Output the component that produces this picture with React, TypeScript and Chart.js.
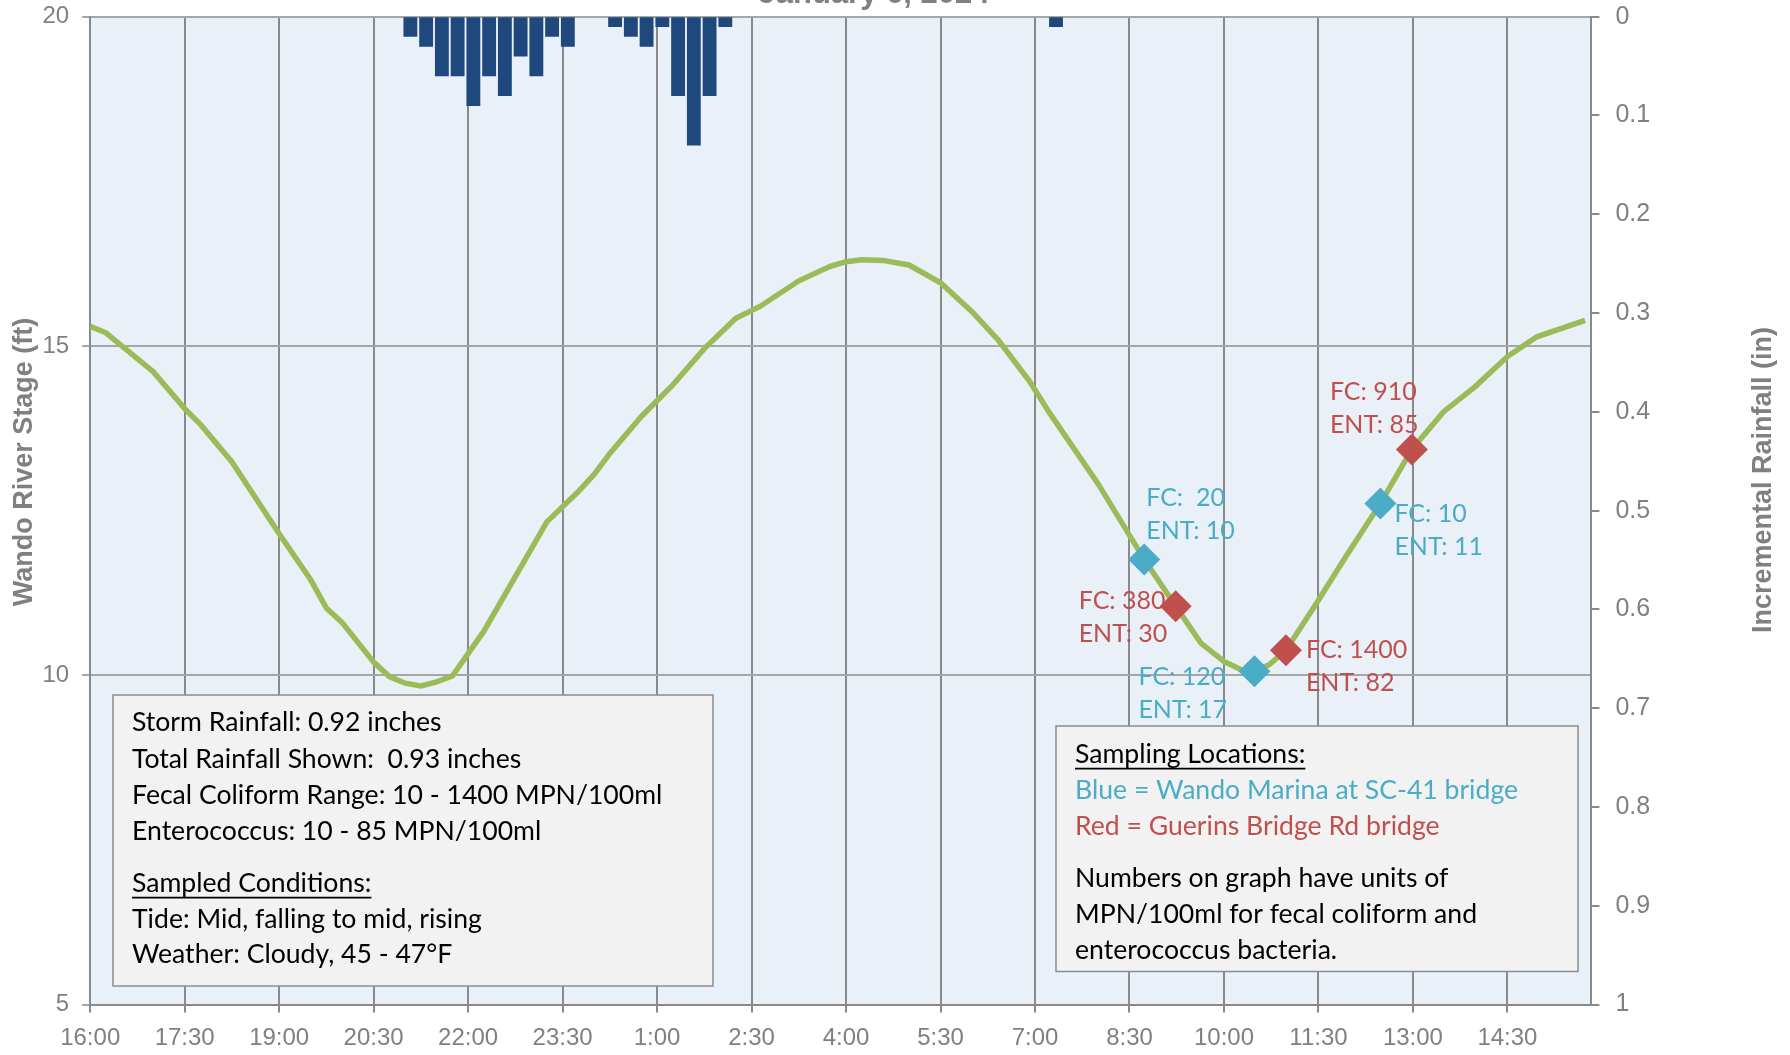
import React, { useEffect, useRef } from 'react';
import { Chart, registerables } from 'chart.js';

Chart.register(...registerables);

// ---------- data ----------
const TITLE = 'January 6, 2024';
const LEFT_AXIS_TITLE = 'Wando River Stage (ft)';
const RIGHT_AXIS_TITLE = 'Incremental Rainfall (in)';

// minutes after 16:00
const X_TICK_MINUTES = [0, 90, 180, 270, 360, 450, 540, 630, 720, 810, 900, 990, 1080, 1170, 1260, 1350];
const X_TICK_LABELS = ['16:00', '17:30', '19:00', '20:30', '22:00', '23:30', '1:00', '2:30', '4:00', '5:30', '7:00', '8:30', '10:00', '11:30', '13:00', '14:30'];

const STAGE_TIMES = [0, 15, 60, 90, 105, 135, 180, 210, 225, 240, 270, 285, 300, 315, 330, 345, 375, 435, 465, 480, 495, 525, 555, 585, 615, 638, 675, 705, 720, 735, 755, 780, 810, 840, 865, 895, 914, 960, 1004, 1034, 1058, 1080, 1097, 1109, 1123, 1139, 1168, 1196, 1229, 1259, 1289, 1319, 1350, 1378, 1424];
const STAGE_VALUES = [15.30, 15.20, 14.61, 14.05, 13.81, 13.24, 12.15, 11.45, 11.02, 10.80, 10.20, 9.98, 9.88, 9.84, 9.90, 9.99, 10.67, 12.33, 12.79, 13.05, 13.37, 13.93, 14.41, 14.96, 15.42, 15.60, 15.99, 16.21, 16.28, 16.31, 16.30, 16.23, 15.96, 15.52, 15.09, 14.46, 13.98, 12.91, 11.76, 11.05, 10.49, 10.21, 10.08, 10.06, 10.16, 10.38, 11.09, 11.80, 12.61, 13.43, 14.00, 14.38, 14.84, 15.14, 15.39];

const RAIN_TIMES = [305, 320, 335, 350, 365, 380, 395, 410, 425, 440, 455, 500, 515, 530, 545, 560, 575, 590, 605, 920];
const RAIN_VALUES = [0.02, 0.03, 0.06, 0.06, 0.09, 0.06, 0.08, 0.04, 0.06, 0.02, 0.03, 0.01, 0.02, 0.03, 0.01, 0.08, 0.13, 0.08, 0.01, 0.01];

const BLUE_TIMES = [1004, 1109, 1229];
const BLUE_STAGE = [11.76, 10.06, 12.61];
const BLUE_LABELS = [['FC:  20', 'ENT: 10'], ['FC: 120', 'ENT: 17'], ['FC: 10', 'ENT: 11']];

const RED_TIMES = [1034, 1139, 1259];
const RED_STAGE = [11.05, 10.38, 13.43];
const RED_LABELS = [['FC: 380', 'ENT: 30'], ['FC: 1400', 'ENT: 82'], ['FC: 910', 'ENT: 85']];

const LEFT_BOX_LINES = [
  'Storm Rainfall: 0.92 inches',
  'Total Rainfall Shown:  0.93 inches',
  'Fecal Coliform Range: 10 - 1400 MPN/100ml',
  'Enterococcus: 10 - 85 MPN/100ml',
  'Sampled Conditions:',
  'Tide: Mid, falling to mid, rising',
  'Weather: Cloudy, 45 - 47°F',
];
const RIGHT_BOX_LINES = [
  'Sampling Locations:',
  'Blue = Wando Marina at SC-41 bridge',
  'Red = Guerins Bridge Rd bridge',
  'Numbers on graph have units of',
  'MPN/100ml for fecal coliform and',
  'enterococcus bacteria.',
];

// ---------- styling / layout ----------
const AX_FONT = '"Liberation Sans", Arial, sans-serif';
const TXT_FONT = 'Lato, "Open Sans", sans-serif';
const GRAY_TEXT = '#808080';
const BLUE = '#4BACC6';
const RED = '#C0504D';
const BOX_TXT_SIZE = 26.6;
const LABEL_TXT_SIZE = 25;

const BLUE_LABEL_POS = [{ dx: 2, dy: -61 }, { dx: -116, dy: 6 }, { dx: 14, dy: 11 }];
const RED_LABEL_POS = [{ dx: -97, dy: -5 }, { dx: 20, dy: 0 }, { dx: -82, dy: -57 }];
const LABEL_LINE_GAP = 32.5;

const LEFT_BOX = { x: 113, y: 695, w: 600, h: 291, tx: 132, ys: [722.6, 759, 795.7, 831, 883.6, 919, 954], underline: [4], colors: ['#000', '#000', '#000', '#000', '#000', '#000', '#000'] };
const RIGHT_BOX = { x: 1056, y: 726, w: 522, h: 245.5, tx: 1075, ys: [754.6, 790, 826.5, 878, 914.4, 950], underline: [0], colors: ['#000', BLUE, RED, '#000', '#000', '#000'] };

const bgPlugin = {
  id: 'bgPlugin',
  beforeDraw(chart: any) {
    const { ctx, chartArea: a } = chart;
    ctx.save();
    ctx.fillStyle = '#FFFFFF';
    ctx.fillRect(0, 0, chart.width, chart.height);
    ctx.fillStyle = '#EAF0F8';
    ctx.fillRect(a.left, a.top, a.right - a.left, a.bottom - a.top);
    ctx.restore();
  },
};

const labelsPlugin = {
  id: 'labelsPlugin',
  afterDatasetsDraw(chart: any) {
    const ctx = chart.ctx;
    const sets = [
      { idx: 1, labels: BLUE_LABELS, pos: BLUE_LABEL_POS, color: BLUE },
      { idx: 2, labels: RED_LABELS, pos: RED_LABEL_POS, color: RED },
    ];
    ctx.save();
    ctx.font = `${LABEL_TXT_SIZE}px ${TXT_FONT}`;
    ctx.textAlign = 'left';
    ctx.textBaseline = 'middle';
    sets.forEach((s) => {
      const meta = chart.getDatasetMeta(s.idx);
      meta.data.forEach((pt: any, i: number) => {
        const p = s.pos[i];
        ctx.fillStyle = s.color;
        s.labels[i].forEach((line: string, k: number) => {
          ctx.fillText(line, pt.x + p.dx, pt.y + p.dy + k * LABEL_LINE_GAP);
        });
      });
    });
    ctx.restore();
  },
};

function drawBox(ctx: CanvasRenderingContext2D, box: any, lines: string[]) {
  ctx.save();
  ctx.fillStyle = '#F2F2F2';
  ctx.fillRect(box.x, box.y, box.w, box.h);
  ctx.strokeStyle = '#8C8C8C';
  ctx.lineWidth = 1.5;
  ctx.strokeRect(box.x, box.y, box.w, box.h);
  ctx.font = `${BOX_TXT_SIZE}px ${TXT_FONT}`;
  ctx.textAlign = 'left';
  ctx.textBaseline = 'middle';
  lines.forEach((line, i) => {
    ctx.fillStyle = box.colors[i];
    ctx.fillText(line, box.tx, box.ys[i]);
    if (box.underline.includes(i)) {
      const w = ctx.measureText(line).width;
      ctx.strokeStyle = box.colors[i];
      ctx.lineWidth = 1.6;
      ctx.beginPath();
      ctx.moveTo(box.tx, box.ys[i] + 14);
      ctx.lineTo(box.tx + w, box.ys[i] + 14);
      ctx.stroke();
    }
  });
  ctx.restore();
}

const overlayPlugin = {
  id: 'overlayPlugin',
  afterDraw(chart: any) {
    const ctx = chart.ctx;
    drawBox(ctx, LEFT_BOX, LEFT_BOX_LINES);
    drawBox(ctx, RIGHT_BOX, RIGHT_BOX_LINES);
    ctx.save();
    // title (mostly cut off at the top)
    ctx.fillStyle = GRAY_TEXT;
    ctx.font = `bold 31px ${AX_FONT}`;
    ctx.textAlign = 'center';
    ctx.textBaseline = 'alphabetic';
    ctx.fillText(TITLE, 874, 3);
    // axis titles
    ctx.font = `bold 27px ${AX_FONT}`;
    ctx.textBaseline = 'middle';
    ctx.save();
    ctx.translate(25, 462);
    ctx.rotate(-Math.PI / 2);
    ctx.fillText(LEFT_AXIS_TITLE, 0, 0);
    ctx.restore();
    ctx.save();
    ctx.translate(1764, 480);
    ctx.rotate(-Math.PI / 2);
    ctx.fillText(RIGHT_AXIS_TITLE, 0, 0);
    ctx.restore();
    ctx.restore();
  },
};

export default function App() {
  const ref = useRef<HTMLCanvasElement>(null);
  useEffect(() => {
    const canvas = ref.current;
    if (!canvas) return;
    const chart = new Chart(canvas, {
      type: 'line',
      data: {
        datasets: [
          {
            type: 'line',
            label: 'Stage',
            data: STAGE_TIMES.map((t, i) => ({ x: t, y: STAGE_VALUES[i] })),
            borderColor: '#9BBB59',
            borderWidth: 5.5,
            pointRadius: 0,
            tension: 0,
            xAxisID: 'x',
            yAxisID: 'y',
            order: 1,
          },
          {
            type: 'line',
            label: 'Blue',
            data: BLUE_TIMES.map((t, i) => ({ x: t, y: BLUE_STAGE[i] })),
            showLine: false,
            pointStyle: 'rectRot',
            pointRadius: 16,
            pointBackgroundColor: BLUE,
            pointBorderWidth: 0,
            xAxisID: 'x',
            yAxisID: 'y',
            order: 0,
          },
          {
            type: 'line',
            label: 'Red',
            data: RED_TIMES.map((t, i) => ({ x: t, y: RED_STAGE[i] })),
            showLine: false,
            pointStyle: 'rectRot',
            pointRadius: 16,
            pointBackgroundColor: RED,
            pointBorderWidth: 0,
            xAxisID: 'x',
            yAxisID: 'y',
            order: 0,
          },
          {
            type: 'bar',
            label: 'Rain',
            data: RAIN_TIMES.map((t, i) => ({ x: t, y: RAIN_VALUES[i] })),
            backgroundColor: '#1F497D',
            borderWidth: 0,
            barThickness: 13.2,
            xAxisID: 'x',
            yAxisID: 'y2',
            order: 2,
          },
        ] as any,
      },
      options: {
        responsive: false,
        devicePixelRatio: 1,
        animation: false,
        layout: { padding: { top: 16.7, left: 0, right: 0, bottom: 0 } },
        plugins: { legend: { display: false }, tooltip: { enabled: false }, title: { display: false } },
        scales: {
          x: {
            type: 'linear',
            min: 0,
            max: 1430,
            offset: false,
            afterBuildTicks: (s: any) => {
              s.ticks = X_TICK_MINUTES.map((v) => ({ value: v }));
            },
            afterFit: (s: any) => {
              s.height = 50.4;
            },
            ticks: {
              autoSkip: false,
              maxRotation: 0,
              padding: 11,
              color: GRAY_TEXT,
              font: { family: AX_FONT, size: 24 },
              callback: (v: any) => X_TICK_LABELS[X_TICK_MINUTES.indexOf(Number(v))] ?? '',
            },
            grid: { color: '#8A8A8A', lineWidth: 2, tickLength: 8, drawTicks: true, offset: false },
            border: { display: true, color: '#8A8A8A', width: 2 },
          },
          y: {
            type: 'linear',
            position: 'left',
            min: 5,
            max: 20,
            afterFit: (s: any) => {
              s.width = 90.2;
            },
            ticks: { stepSize: 5, padding: 13, color: GRAY_TEXT, font: { family: AX_FONT, size: 24, lineHeight: 0.05 } },
            grid: { color: '#A6A6A6', lineWidth: 2, tickLength: 8, drawTicks: true },
            border: { display: true, color: '#8A8A8A', width: 2 },
          },
          y2: {
            type: 'linear',
            position: 'right',
            min: 0,
            max: 1,
            reverse: true,
            afterFit: (s: any) => {
              s.width = 198.6;
            },
            ticks: {
              stepSize: 0.1,
              padding: 16,
              color: GRAY_TEXT,
              font: { family: AX_FONT, size: 25, lineHeight: 0.02 },
              callback: (v: any) => String(Math.round(Number(v) * 10) / 10),
            },
            grid: { drawOnChartArea: false, color: '#8A8A8A', lineWidth: 2, tickLength: 8, drawTicks: true },
            border: { display: true, color: '#8A8A8A', width: 2 },
          },
        },
      } as any,
      plugins: [bgPlugin, labelsPlugin, overlayPlugin],
    });
    return () => chart.destroy();
  }, []);
  return (
    <div style={{ position: 'fixed', left: 0, top: 0, width: 1790, height: 1055, background: '#FFFFFF' }}>
      <canvas ref={ref} width={1790} height={1055} style={{ width: 1790, height: 1055, display: 'block' }} />
    </div>
  );
}
